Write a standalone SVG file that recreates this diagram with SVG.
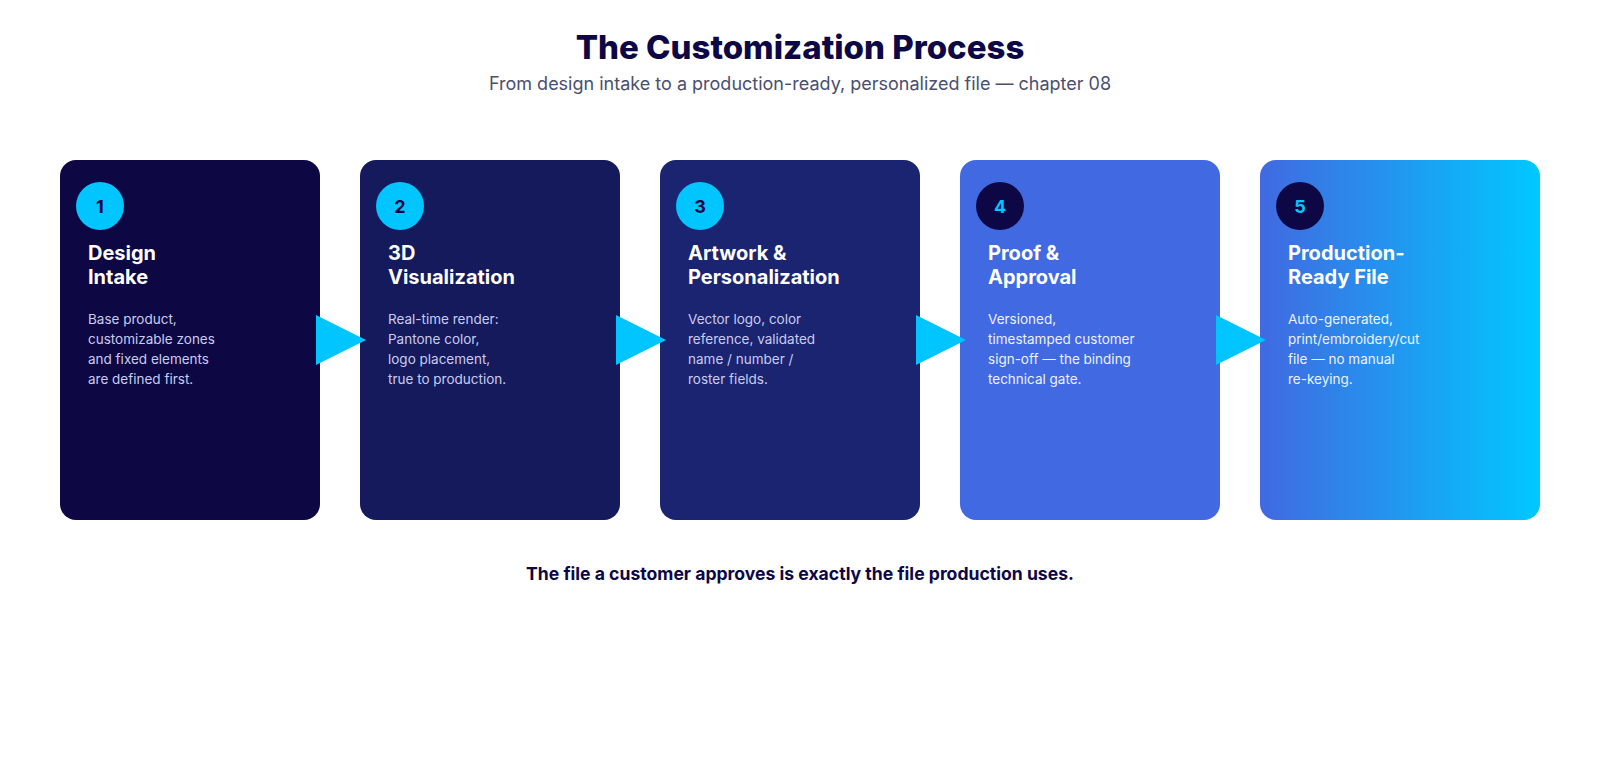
<svg xmlns="http://www.w3.org/2000/svg" width="1600" height="760" viewBox="0 0 1600 760">
<defs>
<linearGradient id="g5" x1="0" y1="0" x2="1" y2="0">
<stop offset="0" stop-color="#4169e1"/>
<stop offset="1" stop-color="#00c8ff"/>
</linearGradient>
<style>
text{font-family:Inter,"Open Sans","Liberation Sans",sans-serif}
.title{font-size:33px;font-weight:800;fill:#0d0845;text-anchor:middle}
.sub{font-size:18px;fill:#4a4f6e;text-anchor:middle}
.foot{font-size:17.6px;font-weight:700;fill:#0d0845;text-anchor:middle}
.h{font-size:20px;font-weight:700;fill:#ffffff}
.b{font-size:13.5px;fill:#c9cbf0}
.b2{font-size:13.5px;fill:#eef1ff}
.num{font-size:18px;font-weight:700;text-anchor:middle}
.arrow{fill:#00c5ff}
</style>
</defs>
<rect width="1600" height="760" fill="#ffffff"/>
<text class="title" x="800" y="59">The Customization Process</text>
<text class="sub" x="800" y="90">From design intake to a production-ready, personalized file — chapter 08</text>

<g id="step1">
<rect x="60" y="160" width="260" height="360" rx="16" fill="#0d0844"/>
<circle cx="100" cy="206" r="24" fill="#00c5ff"/>
<text class="num" x="100" y="212.5" fill="#0d0845">1</text>
<text class="h" x="88" y="260">Design</text>
<text class="h" x="88" y="284">Intake</text>
<text class="b" x="88" y="324">Base product,</text>
<text class="b" x="88" y="344">customizable zones</text>
<text class="b" x="88" y="364">and fixed elements</text>
<text class="b" x="88" y="384">are defined first.</text>
</g>

<g id="step2">
<rect x="360" y="160" width="260" height="360" rx="16" fill="#141a5c"/>
<circle cx="400" cy="206" r="24" fill="#00c5ff"/>
<text class="num" x="400" y="212.5" fill="#0d0845">2</text>
<text class="h" x="388" y="260">3D</text>
<text class="h" x="388" y="284">Visualization</text>
<text class="b" x="388" y="324">Real-time render:</text>
<text class="b" x="388" y="344">Pantone color,</text>
<text class="b" x="388" y="364">logo placement,</text>
<text class="b" x="388" y="384">true to production.</text>
</g>

<g id="step3">
<rect x="660" y="160" width="260" height="360" rx="16" fill="#1b2470"/>
<circle cx="700" cy="206" r="24" fill="#00c5ff"/>
<text class="num" x="700" y="212.5" fill="#0d0845">3</text>
<text class="h" x="688" y="260">Artwork &amp;</text>
<text class="h" x="688" y="284">Personalization</text>
<text class="b" x="688" y="324">Vector logo, color</text>
<text class="b" x="688" y="344">reference, validated</text>
<text class="b" x="688" y="364">name / number /</text>
<text class="b" x="688" y="384">roster fields.</text>
</g>

<g id="step4">
<rect x="960" y="160" width="260" height="360" rx="16" fill="#4169e1"/>
<circle cx="1000" cy="206" r="24" fill="#0d0845"/>
<text class="num" x="1000" y="212.5" fill="#00c5ff">4</text>
<text class="h" x="988" y="260">Proof &amp;</text>
<text class="h" x="988" y="284">Approval</text>
<text class="b2" x="988" y="324">Versioned,</text>
<text class="b2" x="988" y="344">timestamped customer</text>
<text class="b2" x="988" y="364">sign-off — the binding</text>
<text class="b2" x="988" y="384">technical gate.</text>
</g>

<g id="step5">
<rect x="1260" y="160" width="280" height="360" rx="16" fill="url(#g5)"/>
<circle cx="1300" cy="206" r="24" fill="#0d0845"/>
<text class="num" x="1300" y="212.5" fill="#00c5ff">5</text>
<text class="h" x="1288" y="260">Production-</text>
<text class="h" x="1288" y="284">Ready File</text>
<text class="b2" x="1288" y="324">Auto-generated,</text>
<text class="b2" x="1288" y="344">print/embroidery/cut</text>
<text class="b2" x="1288" y="364">file — no manual</text>
<text class="b2" x="1288" y="384">re-keying.</text>
</g>

<g id="connectors">
<polygon class="arrow" points="316,315 316,365 366,340"/>
<polygon class="arrow" points="616,315 616,365 666,340"/>
<polygon class="arrow" points="916,315 916,365 966,340"/>
<polygon class="arrow" points="1216,315 1216,365 1266,340"/>
</g>

<text class="foot" x="800" y="580">The file a customer approves is exactly the file production uses.</text>
</svg>
